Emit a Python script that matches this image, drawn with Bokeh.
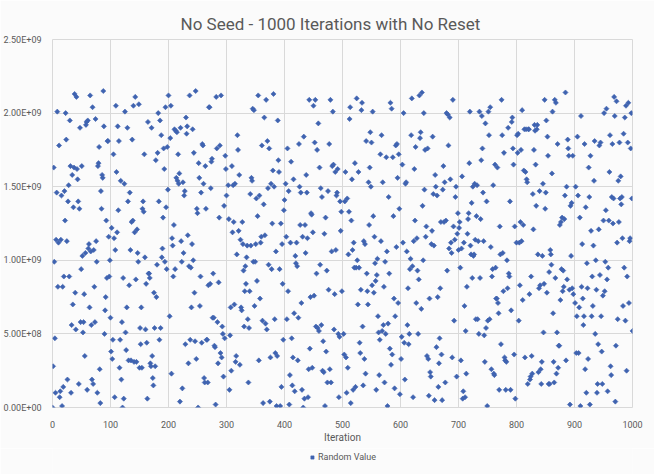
import numpy as np
from bokeh.plotting import figure
from bokeh.layouts import column
from bokeh.models import (Range1d, FixedTicker, CustomJSTickFormatter, Legend, LegendItem,
                          ColumnDataSource)
from bokeh.embed import file_html
from bokeh.resources import INLINE

# Random values, in units of 1e7, grouped by blocks of ~100 iterations
vals_000 = [0,28,163,99,47,10,114,146,201,82,112,178,7,11,114,144,1,82,14,89,
            147,127,200,182,113,19,140,151,89,195,164,10,56,158,70,136,163,213,78,53,
            211,162,155,140,16,135,190,58,94,164,103,51,58,77,35,105,192,194,12,195,
            108,111,68,212,106,56,19,204,16,107,82,58,196,113,99,10,164,166,177,26,
            3,147,135,158,156,215,191,50,66,75,127,88,181,181,116,89,100,61,38]
vals_100 = [122,33,46,172,115,7,107,205,160,119,191,134,181,27,46,154,19,58,0,88,
            6,152,201,51,39,68,190,140,32,83,146,107,32,126,182,127,205,31,119,211,
            87,31,121,105,99,206,27,54,43,68,27,135,140,133,172,102,53,84,44,6,
            194,91,91,88,30,28,190,35,20,15,78,54,28,168,75,97,173,200,140,46,
            195,54,185,102,108,129,176,162,99,204,136,94,177,148,212]
vals_200 = [62,183,205,23,115,110,89,124,189,94,188,156,187,154,172,152,159,4,190,113,
            99,13,153,105,144,147,43,197,186,191,117,30,96,212,46,95,68,111,189,100,
            173,78,45,215,33,135,132,0,166,156,69,89,146,44,179,178,152,20,17,164,
            135,46,46,17,83,204,204,84,149,167,169,61,91,61,42,41,2,211,176,58,
            30,85,129,178,37,212,34,55,50,21,137,47,171,162,144]
vals_300 = [151,128,12,49,68,25,164,119,151,126,70,152,31,35,104,185,175,120,158,29,
            114,68,66,126,111,93,55,79,96,84,102,110,60,17,54,79,145,110,156,154,
            203,99,202,69,99,111,142,86,130,212,32,144,74,112,116,178,59,3,138,197,
            117,57,209,53,181,149,97,176,4,34,152,94,125,161,213,150,60,37,106,1,
            35,195,168,160,94,1,125,14,111,84,46,134,141]
vals_400 = [152,116,60,176,79,147,2,22,112,167,47,15,34,155,64,11,103,98,112,96,
            32,61,179,150,124,146,71,12,116,0,184,6,124,105,158,146,115,7,26,209,
            40,75,132,131,27,119,205,76,180,209,55,91,175,54,193,52,163,97,149,56,
            143,25,45,24,118,1,129,38,93,17,147,80,179,26,209,17,106,164,201,165,
            53,77,160,107,144,146,162,50,7,48,140,120,133,79]
vals_500 = [50,36,140,160,34,10,142,27,104,133,196,204,3,127,155,107,12,112,95,166,
            14,95,210,100,70,160,95,44,37,80,202,207,55,15,113,33,111,23,181,91,
            79,70,153,124,163,187,150,180,83,201,130,78,116,98,86,12,90,101,62,51,
            22,46,172,113,185,52,153,56,82,17,99,50,170,106,1,57,143,91,40,207,
            29,203,36,170,130,74,13,62,178,109,179,156,71,172,135,9]
vals_600 = [33,48,165,112,200,44,19,152,153,106,56,81,43,50,94,101,185,210,96,7,
            113,162,127,177,71,115,93,50,87,212,183,187,67,214,137,100,200,148,175,116,
            123,35,176,33,8,74,24,21,111,120,184,145,110,5,158,150,41,144,75,14,
            30,47,81,126,36,5,148,164,126,153,17,127,200,93,199,178,108,197,155,112,
            105,34,209,123,59,114,143,150,21,118,132]
vals_700 = [107,122,126,95,32,108,157,6,11,112,69,7,52,23,82,118,128,132,166,201,
            110,104,139,88,150,103,104,152,114,60,130,151,60,113,50,201,88,128,168,198,
            176,146,113,49,31,193,54,140,1,59,201,185,60,204,109,26,89,94,151,23,
            22,165,95,74,74,163,71,64,12,123,104,43,209,185,105,79,173,34,32,12,
            31,100,81,190,91,89,140,12,66,194,197,176,165,36,123,6]
vals_800 = [112,185,173,186,59,112,83,126,175,113,202,73,124,161,189,34,160,189,155,153,
            16,189,189,77,19,21,89,35,23,145,121,175,192,188,165,137,189,192,104,24,
            81,147,83,26,16,31,103,152,51,84,209,135,146,195,78,184,171,16,92,16,
            107,104,97,159,201,64,31,17,209,88,207,23,51,179,27,42,42,124,73,126,
            94,129,79,93,82,128,144,214,32,150,87,182,176,171,80,2,137,103,139,81,
            171,77]
vals_900 = [71,150,37,62,184,144,37,68,129,1,198,82,111,74,56,62,179,26,136,10,
            98,81,33,163,143,2,171,120,62,89,69,110,154,181,50,100,80,10,16,43,
            121,178,90,180,62,38,16,76,127,200,79,99,134,203,87,11,95,127,160,185,
            28,22,143,179,125,142,211,198,4,42,208,112,60,154,126,180,142,157,138,143,
            115,69,186,95,197,59,205,25,89,180,207,71,113,115,176,200,142,52]

# first / last iteration of each block
block_first = [0, 102, 202, 303, 402, 502, 601, 700, 800, 901]
block_last = [101, 200, 300, 400, 499, 599, 699, 798, 898, 1000]

x_ticks = list(range(0, 1001, 100))
y_ticks = [0, 5e8, 1e9, 1.5e9, 2e9, 2.5e9]
series_name = "Random Value"

blocks = [vals_000, vals_100, vals_200, vals_300, vals_400,
          vals_500, vals_600, vals_700, vals_800, vals_900]
iteration = np.concatenate([np.linspace(f, l, len(v)) for f, l, v in zip(block_first, block_last, blocks)])
random_value = np.concatenate([np.array(v, dtype=float) * 1e7 for v in blocks])
source = ColumnDataSource(dict(iteration=iteration, value=random_value))

FONT = "Roboto"
GREY = "#595959"
BG = "#fbfbfb"
MARK = "#3F63B0"
marker_style = dict(marker="square", angle=np.pi / 4, size=3.6,
                    fill_color=MARK, line_color=MARK, line_width=0.6)

p = figure(width=654, height=448, output_backend="svg", toolbar_location=None,
           x_range=Range1d(0, 1000), y_range=Range1d(0, 2.5e9),
           min_border_left=50, min_border_right=22, min_border_top=39, min_border_bottom=41,
           title="No Seed - 1000 Iterations with No Reset")
p.background_fill_color = BG
p.border_fill_color = BG
p.outline_line_color = "#d9d9d9"

p.title.align = "left"
p.title.offset = 128
p.title.text_font = FONT
p.title.text_font_size = "17px"
p.title.text_font_style = "normal"
p.title.text_color = GREY
p.title.standoff = 12

r = p.scatter("iteration", "value", source=source, **marker_style)

for ax in (p.xaxis[0], p.yaxis[0]):
    ax.axis_line_color = None
    ax.major_tick_line_color = None
    ax.minor_tick_line_color = None
    ax.major_label_text_font = FONT
    ax.major_label_text_font_size = "9px"
    ax.major_label_text_color = GREY

p.xaxis.ticker = FixedTicker(ticks=x_ticks)
p.yaxis.ticker = FixedTicker(ticks=y_ticks)
p.xaxis.major_label_standoff = 7
p.yaxis.major_label_standoff = 5
p.yaxis.formatter = CustomJSTickFormatter(code="""
const s = tick.toExponential(2);
const parts = s.split('e');
let e = parts[1];
const sign = e[0] === '-' ? '-' : '+';
e = e.replace('+', '').replace('-', '');
if (e.length < 2) { e = '0' + e; }
return parts[0] + 'E' + sign + e;
""")

p.xaxis.axis_label = "Iteration"
p.xaxis.axis_label_text_font = FONT
p.xaxis.axis_label_text_font_size = "10px"
p.xaxis.axis_label_text_font_style = "normal"
p.xaxis.axis_label_text_color = GREY
p.xaxis.axis_label_standoff = 1

p.grid.grid_line_color = "#d9d9d9"
p.grid.grid_line_width = 1

# legend strip below the chart (its own copy of the series, kept out of view)
lf = figure(width=654, height=26, output_backend="svg", toolbar_location=None,
            x_range=Range1d(-2, -1), y_range=Range1d(-2, -1),
            x_axis_location=None, y_axis_location=None,
            min_border_left=0, min_border_right=0, min_border_top=0, min_border_bottom=0)
lf.background_fill_color = BG
lf.border_fill_color = BG
lf.outline_line_color = None
lf.grid.visible = False
lr = lf.scatter("iteration", "value", source=source, **marker_style)

legend = Legend(items=[LegendItem(label=series_name, renderers=[lr])],
                orientation="horizontal", location="top_center")
legend.background_fill_alpha = 0
legend.border_line_alpha = 0
legend.label_text_font = FONT
legend.label_text_font_size = "9px"
legend.label_text_color = GREY
legend.glyph_width = 8
legend.glyph_height = 10
legend.label_standoff = 2
legend.padding = 2
legend.margin = 2
legend.label_height = 10
lf.add_layout(legend, "center")

open("out.html", "w").write(file_html(column(p, lf, spacing=0), INLINE))
